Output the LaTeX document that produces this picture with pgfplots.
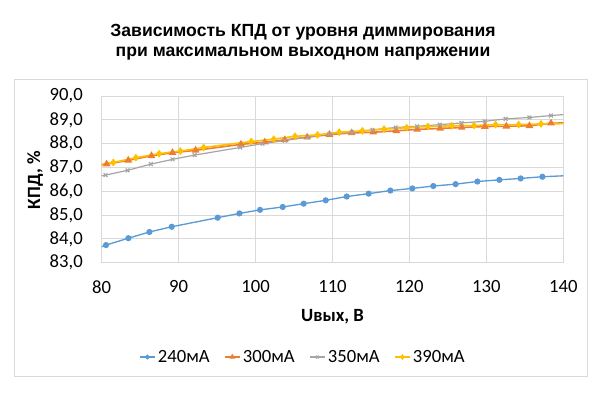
\documentclass[border=0pt]{standalone}
\usepackage{fontspec}
\setmainfont{Carlito}
\newfontfamily\titlefont{Liberation Sans}
\usepackage{pgfplots}
\pgfplotsset{compat=1.18}
\definecolor{cblue}{HTML}{5B9BD5}
\definecolor{corange}{HTML}{ED7D31}
\definecolor{cgray}{HTML}{A5A5A5}
\definecolor{cyellow}{HTML}{FFC000}
\definecolor{cgrid}{HTML}{D9D9D9}
\begin{document}
\begin{tikzpicture}[x=0.75pt,y=0.75pt]
\path[use as bounding box] (0,0) rectangle (600,400);
\draw[draw=cgrid, line width=0.75pt] (14,23) rectangle (587,320);
\node[align=center, font=\titlefont\bfseries\fontsize{13.2}{15}\selectfont] at (303,357.5)
 {Зависимость КПД от уровня диммирования\\при максимальном выходном напряжении};
\begin{axis}[
  at={(76.275pt,102.975pt)}, anchor=south west,
  scale only axis, width=346.2pt, height=125pt,
  xmin=80, xmax=140, ymin=83, ymax=90,
  xtick={80,90,...,140}, ytick={83,84,...,90},
  grid=major, grid style={draw=cgrid, line width=0.75pt},
  axis line style={draw=cgrid, line width=0.75pt},
  major tick length=0pt,
  /pgf/number format/assume math mode=true,
  tick label style={font=\fontsize{14}{16}\selectfont},
  yticklabel style={anchor=east, inner sep=0pt, xshift=-14pt,
    /pgf/number format/.cd, fixed, fixed zerofill, precision=1, use comma},
  xticklabel style={anchor=center, inner sep=0pt, yshift=-18pt,
    /pgf/number format/.cd, fixed, precision=0},
  xlabel={Uвых, В},
  xlabel style={at={(axis description cs:0.5,-0.326)}, anchor=center, font=\bfseries\fontsize{14}{16}\selectfont},
  ylabel={КПД, \%},
  ylabel style={at={(axis description cs:-0.1445,0.496)}, anchor=center, rotate=0, font=\bfseries\fontsize{14}{16}\selectfont},
  legend columns=4,
  legend style={at={(axis description cs:0.437,-0.566)}, anchor=center, draw=none, fill=none,
    font=\fontsize{14}{16}\selectfont,
    /tikz/every even column/.append style={column sep=9pt}},
  legend image code/.code={\draw[mark repeat=2,mark phase=2,#1,line width=0.9pt,mark options={scale=0.75}] plot coordinates {(0pt,0pt)(5.5pt,0pt)(11pt,0pt)};},
]
\addplot[cblue, line width=1pt, mark=*, mark size=1.8pt] coordinates {
(80.56,83.74)(83.47,84.03)(86.2,84.29)(89.1,84.51)(95.08,84.89)(97.9,85.07)(100.58,85.22)(103.53,85.34)(106.26,85.48)(109.12,85.62)(111.85,85.78)(114.7,85.90)(117.52,86.03)(120.38,86.12)(123.1,86.22)(126.0,86.30)(128.83,86.41)(131.69,86.48)(134.46,86.54)(137.28,86.61)};
\addlegendentry{240мА}
\addplot[corange, line width=1.2pt, mark=triangle*, mark size=2.2pt] coordinates {
(80.64,87.14)(83.45,87.30)(86.47,87.49)(89.2,87.62)(92.2,87.72)(98.1,87.97)(101.2,88.06)(103.8,88.16)(106.7,88.27)(109.6,88.38)(112.5,88.45)(115.3,88.48)(118.3,88.54)(121.0,88.60)(124.0,88.64)(126.8,88.68)(129.8,88.72)(132.6,88.73)(135.6,88.75)(138.4,88.86)};
\addlegendentry{300мА}
\addplot[cgray, line width=0.9pt, mark=x, mark size=2pt] coordinates {
(80.5,86.68)(83.37,86.88)(86.39,87.14)(89.2,87.34)(92.08,87.52)(98.0,87.84)(100.9,88.0)(103.8,88.13)(106.7,88.27)(109.6,88.41)(112.5,88.47)(115.2,88.58)(118.2,88.68)(121.0,88.73)(123.95,88.80)(126.76,88.87)(129.8,88.94)(132.5,89.04)(135.6,89.10)(138.4,89.18)};
\addlegendentry{350мА}
\addplot[cyellow, line width=1.2pt, mark=diamond*, mark size=2pt] coordinates {
(81.5,87.21)(84.44,87.41)(87.46,87.58)(90.23,87.69)(93.25,87.84)(99.43,88.09)(102.36,88.19)(105.13,88.31)(108.06,88.37)(110.87,88.48)(113.89,88.54)(116.7,88.61)(119.64,88.67)(122.4,88.72)(125.5,88.75)(128.4,88.76)(131.2,88.80)(134.2,88.80)(137.1,88.83)};
\addlegendentry{390мА}
% line ends reaching the plot edges
\addplot[cblue, line width=1pt, forget plot] coordinates {(80,83.67)(80.56,83.74)};
\addplot[cblue, line width=1pt, forget plot] coordinates {(137.28,86.61)(140,86.65)};
\addplot[corange, line width=1.2pt, forget plot] coordinates {(80,87.11)(80.64,87.14)};
\addplot[corange, line width=1.2pt, forget plot] coordinates {(138.4,88.86)(140,88.87)};
\addplot[cgray, line width=0.9pt, forget plot] coordinates {(80,86.65)(80.5,86.68)};
\addplot[cgray, line width=0.9pt, forget plot] coordinates {(138.4,89.18)(140,89.22)};
\addplot[cyellow, line width=1.2pt, forget plot] coordinates {(80,87.13)(81.5,87.21)};
\addplot[cyellow, line width=1.2pt, forget plot] coordinates {(137.1,88.83)(140,88.84)};
\end{axis}
\end{tikzpicture}
\end{document}
